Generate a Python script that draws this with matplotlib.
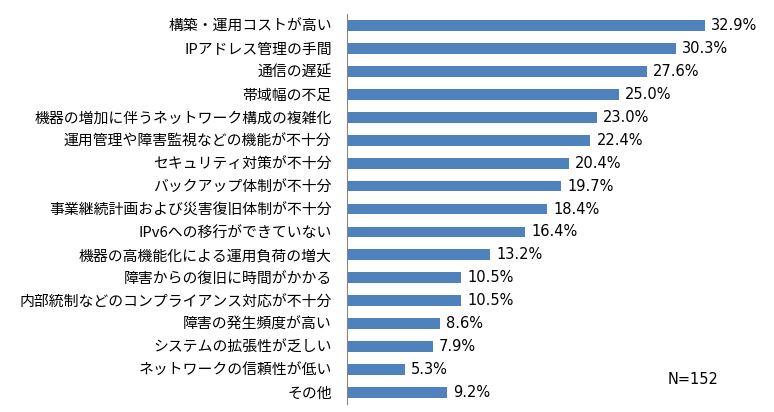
import matplotlib
matplotlib.use('Agg')
import matplotlib.pyplot as plt

plt.rcParams['font.family'] = ['Noto Sans CJK JP', 'DejaVu Sans']

labels = ['構築・運用コストが高い', 'IPアドレス管理の手間', '通信の遅延', '帯域幅の不足',
          '機器の増加に伴うネットワーク構成の複雑化', '運用管理や障害監視などの機能が不十分',
          'セキュリティ対策が不十分', 'バックアップ体制が不十分', '事業継続計画および災害復旧体制が不十分',
          'IPv6への移行ができていない', '機器の高機能化による運用負荷の増大', '障害からの復旧に時間がかかる',
          '内部統制などのコンプライアンス対応が不十分', '障害の発生頻度が高い', 'システムの拡張性が乏しい',
          'ネットワークの信頼性が低い', 'その他']
values = [32.9, 30.3, 27.6, 25.0, 23.0, 22.4, 20.4, 19.7, 18.4, 16.4, 13.2, 10.5, 10.5, 8.6, 7.9, 5.3, 9.2]

fig = plt.figure(figsize=(7.74, 4.12), dpi=100)
ax = fig.add_axes([347/774, 8/412, 400/774, 390/412])

y = list(range(len(labels)))
ax.barh(y, values, height=0.47, color='#4F81BD')
for yi, v in zip(y, values):
    ax.text(v + 0.55, yi, '%.1f%%' % v, va='center', ha='left', fontsize=10.5,
            family='DejaVu Sans')

ax.set_yticks(y)
ax.set_yticklabels(labels, fontsize=10.7)
ax.set_ylim(len(labels) - 0.5, -0.5)
ax.set_xlim(0, 400/10.87)
ax.tick_params(axis='y', length=0, pad=11)
ax.set_xticks([])
for s in ['top', 'right', 'bottom']:
    ax.spines[s].set_visible(False)
ax.spines['left'].set_color('#868686')

fig.text(668/774, 1 - 380/412, 'N=152', fontsize=10.5, va='center', ha='left',
         family='DejaVu Sans')

fig.savefig('out.png', dpi=100)
